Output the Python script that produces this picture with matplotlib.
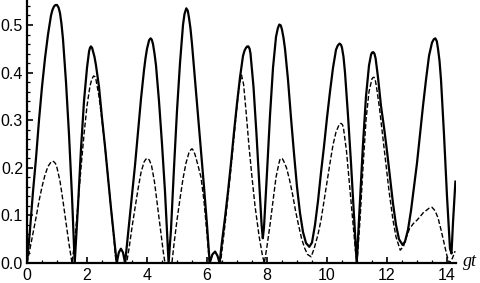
"""
Two oscillating curves vs gt (solid and dashed), Mathematica-like frame.
Values are read off the reference picture, one line per arch.
"""

import matplotlib

matplotlib.use("Agg")
import matplotlib.pyplot as plt
from matplotlib.ticker import MultipleLocator, FormatStrFormatter


# solid curve
solid_x = [
    0.0, 0.1, 0.2, 0.3, 0.4, 0.5, 0.6, 0.7, 0.8, 0.85, 0.9, 0.95, 1.0, 1.05, 1.1, 1.15, 1.2, 1.3, 1.4, 1.5,
    1.59, 1.7, 1.8, 1.9, 2.0, 2.07, 2.1, 2.13, 2.17, 2.2, 2.25, 2.3, 2.4, 2.5, 2.6, 2.7, 2.8, 2.9,
    2.99, 3.06, 3.13, 3.2,
    3.27, 3.4, 3.5, 3.6, 3.7, 3.8, 3.9, 3.95, 4.0, 4.07, 4.12, 4.16, 4.2, 4.25, 4.3, 4.4, 4.5, 4.6,
    4.72, 4.8, 4.9, 5.0, 5.1, 5.2, 5.25, 5.31, 5.36, 5.4, 5.45, 5.5, 5.6, 5.7, 5.8, 5.9, 6.0,
    6.09, 6.18, 6.27, 6.35,
    6.42, 6.5, 6.6, 6.7, 6.8, 6.9, 7.0, 7.1, 7.2, 7.25, 7.3, 7.34, 7.38, 7.42, 7.45, 7.55, 7.65, 7.75, 7.82,
    7.86, 7.9, 8.0, 8.1, 8.2, 8.3, 8.36, 8.41, 8.46, 8.5, 8.55, 8.6, 8.7, 8.8, 8.9, 9.0, 9.1, 9.2, 9.3,
    9.41, 9.5, 9.6, 9.7, 9.8, 9.9, 10.0, 10.1, 10.2, 10.3, 10.36, 10.42, 10.47, 10.5, 10.55, 10.6, 10.7, 10.8, 10.9,
    10.99, 11.1, 11.2, 11.3, 11.4, 11.47, 11.5, 11.54, 11.58, 11.62, 11.7, 11.8, 11.9, 12.0, 12.1, 12.2, 12.3, 12.4,
    12.52, 12.6, 12.7, 12.8, 12.9, 13.0, 13.1, 13.2, 13.3, 13.4, 13.5, 13.56, 13.61, 13.66, 13.7, 13.75, 13.8, 13.9, 14.0, 14.1,
    14.15, 14.2, 14.28,
]
solid_y = [
    0.0, 0.07, 0.15, 0.22, 0.3, 0.37, 0.43, 0.48, 0.52, 0.532, 0.539, 0.542, 0.542, 0.537, 0.525, 0.502, 0.47, 0.38, 0.27, 0.14,
    0.0, 0.12, 0.24, 0.34, 0.41, 0.445, 0.452, 0.455, 0.452, 0.445, 0.433, 0.415, 0.37, 0.305, 0.245, 0.18, 0.115, 0.055,
    0.0, 0.022, 0.03, 0.022,
    0.0, 0.08, 0.14, 0.205, 0.275, 0.345, 0.405, 0.43, 0.45, 0.468, 0.472, 0.469, 0.46, 0.44, 0.415, 0.34, 0.25, 0.15,
    0.0, 0.07, 0.2, 0.32, 0.42, 0.5, 0.523, 0.535, 0.53, 0.515, 0.492, 0.46, 0.385, 0.31, 0.235, 0.16, 0.08,
    0.0, 0.018, 0.024, 0.015,
    0.0, 0.045, 0.095, 0.15, 0.21, 0.275, 0.335, 0.39, 0.435, 0.446, 0.452, 0.455, 0.455, 0.45, 0.44, 0.37, 0.27, 0.16, 0.08,
    0.052, 0.075, 0.19, 0.31, 0.41, 0.475, 0.493, 0.501, 0.499, 0.49, 0.473, 0.45, 0.385, 0.305, 0.23, 0.16, 0.105, 0.065, 0.042,
    0.034, 0.043, 0.08, 0.13, 0.19, 0.245, 0.305, 0.36, 0.41, 0.448, 0.457, 0.461, 0.458, 0.452, 0.433, 0.4, 0.31, 0.21, 0.1,
    0.0, 0.13, 0.25, 0.35, 0.415, 0.438, 0.442, 0.443, 0.44, 0.43, 0.39, 0.33, 0.285, 0.235, 0.18, 0.125, 0.08, 0.05,
    0.038, 0.045, 0.07, 0.11, 0.16, 0.21, 0.27, 0.33, 0.385, 0.435, 0.463, 0.47, 0.472, 0.466, 0.45, 0.425, 0.385, 0.27, 0.14, 0.03,
    0.02, 0.085, 0.171,
]

# dashed curve
dashed_x = [
    0.0, 0.1, 0.2, 0.3, 0.4, 0.5, 0.6, 0.7, 0.8, 0.85, 0.89, 0.95, 1.0, 1.1, 1.2, 1.3, 1.4,
    1.5, 1.6, 1.7, 1.8, 1.9, 2.0, 2.1, 2.16, 2.22, 2.27, 2.3, 2.4, 2.5, 2.6, 2.7, 2.8, 2.9,
    2.97, 3.32, 3.4, 3.5, 3.6, 3.7, 3.8, 3.9, 3.96, 4.02, 4.08, 4.15, 4.25, 4.35, 4.45, 4.55,
    4.6, 4.83, 4.9, 5.0, 5.1, 5.2, 5.3, 5.4, 5.45, 5.5, 5.55, 5.6, 5.7, 5.8, 5.9, 6.0,
    6.08, 6.45, 6.6, 6.8, 7.0, 7.08, 7.15, 7.22, 7.3, 7.4, 7.5, 7.6, 7.74, 7.85,
    7.91, 8.0, 8.1, 8.2, 8.3, 8.4, 8.43, 8.47, 8.51, 8.55, 8.65, 8.75, 8.85, 8.95, 9.05, 9.15, 9.25, 9.35,
    9.47, 9.57, 9.7, 9.8, 9.9, 10.0, 10.1, 10.2, 10.3, 10.4, 10.44, 10.48, 10.52, 10.55, 10.65, 10.75, 10.85, 10.95,
    11.0, 11.1, 11.2, 11.3, 11.4, 11.5, 11.54, 11.57, 11.61, 11.65, 11.75, 11.85, 11.95, 12.07, 12.2, 12.3,
    12.44, 12.55, 12.65, 12.75, 12.88, 13.0, 13.11, 13.2, 13.3, 13.4, 13.5, 13.6, 13.7, 13.8, 13.9, 14.0,
    14.08, 14.18, 14.27,
]
dashed_y = [
    0.0, 0.03, 0.062, 0.095, 0.13, 0.16, 0.185, 0.203, 0.212, 0.214, 0.213, 0.209, 0.2, 0.172, 0.13, 0.085, 0.04,
    0.0, 0.05, 0.125, 0.2, 0.27, 0.33, 0.372, 0.386, 0.393, 0.391, 0.385, 0.35, 0.3, 0.245, 0.18, 0.115, 0.05,
    0.0, 0.0, 0.03, 0.075, 0.115, 0.155, 0.19, 0.212, 0.218, 0.22, 0.216, 0.205, 0.17, 0.12, 0.07, 0.02,
    0.0, 0.0, 0.04, 0.09, 0.135, 0.177, 0.21, 0.232, 0.237, 0.24, 0.236, 0.228, 0.205, 0.18, 0.13, 0.06,
    0.0, 0.0, 0.08, 0.2, 0.33, 0.375, 0.395, 0.375, 0.32, 0.245, 0.18, 0.12, 0.055, 0.015,
    0.0, 0.035, 0.08, 0.13, 0.18, 0.21, 0.217, 0.22, 0.219, 0.215, 0.2, 0.175, 0.145, 0.11, 0.08, 0.052, 0.032, 0.018,
    0.013, 0.03, 0.06, 0.09, 0.13, 0.17, 0.21, 0.248, 0.275, 0.29, 0.293, 0.293, 0.29, 0.283, 0.235, 0.165, 0.095, 0.025,
    0.0, 0.09, 0.2, 0.3, 0.36, 0.387, 0.39, 0.39, 0.384, 0.37, 0.325, 0.27, 0.215, 0.15, 0.09, 0.055,
    0.027, 0.035, 0.055, 0.072, 0.083, 0.09, 0.098, 0.105, 0.11, 0.115, 0.117, 0.11, 0.095, 0.07, 0.042, 0.015,
    0.0, 0.01, 0.025,
]

x_max = 14.3
y_max = 0.5525


def main():
    plt.rcParams["font.family"] = ["Liberation Sans", "DejaVu Sans"]

    fig = plt.figure(figsize=(4.81, 2.83), dpi=100)
    ax = fig.add_axes([27 / 481, 20 / 283, 429 / 481, 263 / 283])

    ax.plot(solid_x, solid_y, color="black", lw=1.6, solid_joinstyle="round")
    ax.plot(dashed_x, dashed_y, color="black", lw=1.0, dashes=(3.5, 1.6))

    ax.set_xlim(0, x_max)
    ax.set_ylim(0, y_max)

    # mathematica style frame: only left/bottom, ticks inside
    for side in ["top", "right"]:
        ax.spines[side].set_visible(False)
    for side in ["left", "bottom"]:
        ax.spines[side].set_linewidth(1.6)

    ax.xaxis.set_major_locator(MultipleLocator(2))
    ax.xaxis.set_minor_locator(MultipleLocator(0.5))
    ax.yaxis.set_major_locator(MultipleLocator(0.1))
    ax.yaxis.set_minor_locator(MultipleLocator(0.02))
    ax.yaxis.set_major_formatter(FormatStrFormatter("%.1f"))

    ax.tick_params(which="major", direction="in", length=4, width=1.2, labelsize=11.5)
    ax.tick_params(which="minor", direction="in", length=2.2, width=0.9)
    ax.tick_params(axis="x", pad=3.5)
    ax.tick_params(axis="y", pad=2.8)

    fig.text(463 / 481, 22 / 283, "gt", family="Liberation Serif", style="italic",
             fontsize=13, ha="left", va="center")

    fig.savefig("out.png", dpi=100)


if __name__ == "__main__":
    main()
